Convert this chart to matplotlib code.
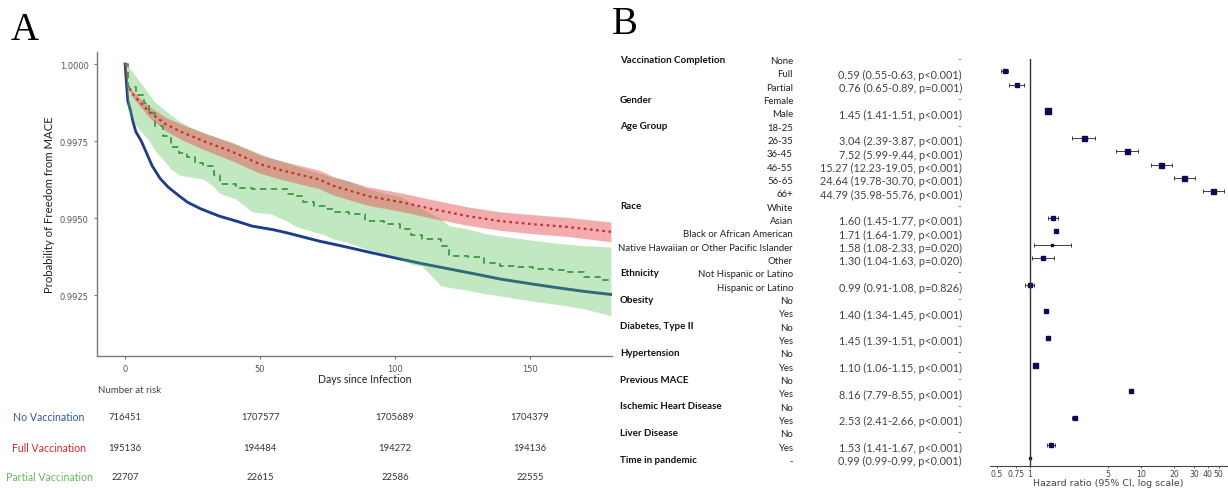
import numpy as np
import matplotlib
matplotlib.use("Agg")
import matplotlib.pyplot as plt
from matplotlib import transforms

# ---------------- Panel A data (Kaplan-Meier) ----------------
days_none = [0, 1, 2, 3, 4, 5, 6, 8, 10, 13, 16, 20, 23, 28, 35, 42, 47, 55, 60, 72, 80, 90,
             102, 110, 120, 130, 139, 150, 160, 170, 180]
surv_none = [1.0, 0.9988, 0.9985, 0.9981, 0.9978, 0.99765, 0.9975, 0.9971, 0.9967, 0.99628,
             0.996, 0.99572, 0.99552, 0.9953, 0.99506, 0.99488, 0.99474, 0.99462, 0.99452,
             0.99425, 0.9941, 0.9939, 0.99367, 0.99352, 0.99335, 0.99318, 0.99302, 0.99287,
             0.99274, 0.99262, 0.99252]
none_ci_half = 0.00004

days_full = [0, 1, 3, 9, 15, 21, 29, 40, 50, 58, 65, 72, 77, 90, 102, 114, 127, 139, 151, 164, 180]
surv_full = [1.0, 0.9993, 0.9990, 0.99844, 0.99805, 0.99779, 0.9975, 0.99714, 0.99675, 0.99655,
             0.9964, 0.99625, 0.99605, 0.99571, 0.99552, 0.99529, 0.99506, 0.9949, 0.9948,
             0.99471, 0.99455]
full_lo = [1.0, 0.99925, 0.9989, 0.99826, 0.99783, 0.99754, 0.99723, 0.99684, 0.99645, 0.99625,
           0.9961, 0.99595, 0.99575, 0.99541, 0.99522, 0.99499, 0.99476, 0.9946, 0.99449,
           0.9944, 0.99423]
full_hi = [1.0, 0.99935, 0.9991, 0.99862, 0.99827, 0.99804, 0.99777, 0.99744, 0.99705, 0.99685,
           0.9967, 0.99655, 0.99635, 0.99601, 0.99582, 0.99559, 0.99536, 0.9952, 0.99511,
           0.99502, 0.99487]

days_part = [0, 1, 4, 7, 9, 11, 14, 17, 20, 23, 26, 29, 33, 35, 41, 47, 54, 60, 63, 66, 70, 74,
             77, 83, 89, 96, 102, 106, 110, 117, 120, 127, 133, 139, 145, 151, 158, 164, 170,
             176, 180]
surv_part = [1.0, 0.99925, 0.9990, 0.99875, 0.9984, 0.998, 0.99765, 0.9973, 0.9971, 0.99698,
             0.9968, 0.99669, 0.9964, 0.9961, 0.99597, 0.99595, 0.99594, 0.99578, 0.9957,
             0.99552, 0.9954, 0.99528, 0.9952, 0.99513, 0.9949, 0.9948, 0.99464, 0.99445,
             0.99432, 0.9941, 0.99377, 0.99373, 0.99355, 0.99344, 0.9934, 0.99334, 0.9933,
             0.99325, 0.99308, 0.993, 0.99292]
part_lo = [1.0, 0.9985, 0.998, 0.9977, 0.9975, 0.9972, 0.9969, 0.99659, 0.9964, 0.99635,
           0.9963, 0.99627, 0.996, 0.9958, 0.99562, 0.9952, 0.99513, 0.9949, 0.99474, 0.99465,
           0.99455, 0.99445, 0.99432, 0.9942, 0.9940, 0.99385, 0.99367, 0.9935, 0.99344,
           0.9928, 0.99275, 0.99265, 0.99255, 0.99247, 0.99238, 0.9923, 0.99222, 0.99214,
           0.99205, 0.99192, 0.99182]
part_hi = [1.0, 0.99995, 0.9996, 0.99925, 0.999, 0.99877, 0.99855, 0.99835, 0.99815, 0.998,
           0.99788, 0.99777, 0.99765, 0.99758, 0.9974, 0.9972, 0.99695, 0.9968, 0.9967, 0.9966,
           0.9965, 0.9964, 0.99632, 0.9962, 0.99598, 0.9958, 0.9957, 0.9955, 0.9953, 0.99497,
           0.99475, 0.99465, 0.9945, 0.99442, 0.99435, 0.99428, 0.9942, 0.99415, 0.9941,
           0.99408, 0.99406]

x_ticks = [0, 50, 100, 150]
y_ticks = [0.9925, 0.9950, 0.9975, 1.0000]
risk_groups = ["No Vaccination", "Full Vaccination", "Partial Vaccination"]
risk_none = [716451, 1707577, 1705689, 1704379]
risk_full = [195136, 194484, 194272, 194136]
risk_part = [22707, 22615, 22586, 22555]

# ---------------- Panel B data (Cox model) ----------------
row_groups = ["Vaccination Completion", "", "", "Gender", "", "Age Group", "", "", "", "", "",
              "Race", "", "", "", "", "Ethnicity", "", "Obesity", "", "Diabetes, Type II", "",
              "Hypertension", "", "Previous MACE", "", "Ischemic Heart Disease", "",
              "Liver Disease", "", "Time in pandemic"]
row_levels = ["None", "Full", "Partial", "Female", "Male", "18-25", "26-35", "36-45", "46-55",
              "56-65", "66+", "White", "Asian", "Black or African American",
              "Native Hawaiian or Other Pacific Islander", "Other", "Not Hispanic or Latino",
              "Hispanic or Latino", "No", "Yes", "No", "Yes", "No", "Yes", "No", "Yes", "No",
              "Yes", "No", "Yes", "-"]
nan = np.nan
hr = [nan, 0.59, 0.76, nan, 1.45, nan, 3.04, 7.52, 15.27, 24.64, 44.79, nan, 1.60, 1.71, 1.58,
      1.30, nan, 0.99, nan, 1.40, nan, 1.45, nan, 1.10, nan, 8.16, nan, 2.53, nan, 1.53, 0.99]
hr_lo = [nan, 0.55, 0.65, nan, 1.41, nan, 2.39, 5.99, 12.23, 19.78, 35.98, nan, 1.45, 1.64, 1.08,
         1.04, nan, 0.91, nan, 1.34, nan, 1.39, nan, 1.06, nan, 7.79, nan, 2.41, nan, 1.41, 0.99]
hr_hi = [nan, 0.63, 0.89, nan, 1.51, nan, 3.87, 9.44, 19.05, 30.70, 55.76, nan, 1.77, 1.79, 2.33,
         1.63, nan, 1.08, nan, 1.45, nan, 1.51, nan, 1.15, nan, 8.55, nan, 2.66, nan, 1.67, 0.99]
p_text = [None, "p<0.001", "p=0.001", None, "p<0.001", None, "p<0.001", "p<0.001", "p<0.001",
          "p<0.001", "p<0.001", None, "p<0.001", "p<0.001", "p=0.020", "p=0.020", None,
          "p=0.826", None, "p<0.001", None, "p<0.001", None, "p<0.001", None, "p<0.001", None,
          "p<0.001", None, "p<0.001", "p<0.001"]
hr_ticks = [0.5, 0.75, 1, 5, 10, 20, 30, 40, 50]
hr_tick_labels = ["0.5", "0.75", "1", "5", "10", "20", "30", "40", "50"]

# style: marker box size (points) per row
box_pt = [0, 3.2, 2.2, 0, 4.6, 0, 3.6, 3.6, 3.6, 3.6, 3.6, 0, 2.4, 3.2, 1.6, 2.2, 0, 2.2, 0, 3.2,
          0, 3.2, 0, 3.6, 0, 2.4, 0, 2.8, 0, 2.2, 1.5]

# ---------------- Figure ----------------
W, H = 1228, 489
fig = plt.figure(figsize=(W / 100, H / 100), dpi=100)
fx = lambda x: x / W
fy = lambda y: 1 - y / H

SANS = ["Lato", "DejaVu Sans"]

ax = fig.add_axes([fx(97), fy(357), fx(612 - 97), (357 - 53) / H])
ax.set_xlim(-10.4, 180.4)
ax.set_ylim(0.99052, 1.00039)

blue, red, green = "#1f3c8c", "#d42a2a", "#3f9a3f"
ax.fill_between(days_none, np.array(surv_none) - none_ci_half, np.array(surv_none) + none_ci_half,
                color="#6f8fd8", alpha=0.6, lw=0, zorder=1)
ax.plot(days_none, surv_none, color=blue, lw=2.0, zorder=2)
ax.fill_between(days_part, part_lo, part_hi, color="#52bf52", alpha=0.35, lw=0, zorder=3)
ax.fill_between(days_full, full_lo, full_hi, color="#e5484b", alpha=0.45, lw=0, zorder=4)
ax.plot(days_full, surv_full, color=red, lw=1.6, ls=(0, (1.2, 1.6)), zorder=5)
ax.plot(days_part, surv_part, color=green, lw=1.3, ls=(0, (3.5, 2.5)), drawstyle="steps-post", zorder=6)

for s in ["top", "right"]:
    ax.spines[s].set_visible(False)
for s in ["left", "bottom"]:
    ax.spines[s].set_color("#7a7a7a")
    ax.spines[s].set_linewidth(1.0)
ax.set_xticks(x_ticks)
ax.set_yticks(y_ticks)
ax.set_yticklabels([f"{v:.4f}" for v in y_ticks])
ax.tick_params(colors="#7a7a7a", labelcolor="#555555", labelsize=6.0, length=2.5, width=0.8)
ax.set_ylabel("Probability of Freedom from MACE", fontsize=8.2, family=SANS, color="#222222")
ax.yaxis.set_label_coords(-0.082, 0.5)
fig.text(fx(365), fy(380), "Days since Infection", fontsize=7.6, family=SANS, color="#222222",
         ha="center", va="center")

# risk table
tr = transforms.blended_transform_factory(ax.transData, fig.transFigure)
fig.text(fx(98), fy(391), "Number at risk", fontsize=7, family=SANS, color="#444444",
         ha="left", va="center")
row_y = [418, 449, 478]
row_cols = ["#2c5a9e", "#d7262b", "#69b85a"]
for grp, yy, col, vals in zip(risk_groups, row_y, row_cols, [risk_none, risk_full, risk_part]):
    fig.text(fx(49), fy(yy), grp, fontsize=7.6, family=SANS, color=col, ha="center", va="center")
    for xv, n in zip(x_ticks, vals):
        ax.text(xv, fy(yy), str(n), transform=tr, fontsize=6.8, family=SANS, color="#333333",
                ha="center", va="center", clip_on=False)

fig.text(fx(11), fy(31), "A", fontsize=28, family="Liberation Serif", ha="left", va="center")
fig.text(fx(612), fy(25), "B", fontsize=28, family="Liberation Serif", ha="left", va="center")

# ---------------- Panel B ----------------
fa = fig.add_axes([fx(990), fy(467), fx(1227 - 990), (467 - 60) / H])
fa.set_xscale("log")
fa.set_xlim(0.436, 59.5)
fa.set_ylim(30.6, 0.075)
fa.axvline(1, color="#333333", lw=1.0, zorder=4)
for i in range(len(hr)):
    if np.isnan(hr[i]):
        continue
    fa.errorbar([hr[i]], [i], xerr=[[hr[i] - hr_lo[i]], [hr_hi[i] - hr[i]]], fmt="none",
                ecolor="#222222", elinewidth=0.6, capsize=1.3, capthick=0.6, zorder=2)
    fa.plot([hr[i]], [i], marker="s", ms=box_pt[i], color="#0a0a55", ls="none", zorder=3)
for s in ["top", "right", "left"]:
    fa.spines[s].set_visible(False)
fa.spines["bottom"].set_color("#444444")
fa.spines["bottom"].set_linewidth(0.8)
fa.set_yticks([])
fa.set_xticks(hr_ticks)
fa.set_xticklabels(hr_tick_labels)
fa.xaxis.set_minor_locator(matplotlib.ticker.NullLocator())
fa.tick_params(axis="x", labelsize=5.6, labelcolor="#444444", color="#444444", length=1.5,
               width=0.6, pad=1.0)
fa.set_xlabel("Hazard ratio (95% CI, log scale)", fontsize=6.8, color="#444444", labelpad=0)

tb = transforms.blended_transform_factory(fig.transFigure, fa.transData)
for i in range(len(row_levels)):
    yy = i + 0.2
    if row_groups[i]:
        fa.text(fx(620), yy - 0.1, row_groups[i], transform=tb, fontsize=7.0, family=SANS,
                weight="bold", color="#111111", ha="left", va="center", clip_on=False)
    fa.text(fx(793), yy, row_levels[i], transform=tb, fontsize=6.9, family=SANS,
            color="#222222", ha="right", va="center", clip_on=False)
    if np.isnan(hr[i]):
        fa.text(fx(961), yy - 0.15, "-", transform=tb, fontsize=6.9, family=SANS,
                color="#666666", ha="right", va="center", clip_on=False)
    else:
        txt = f"{hr[i]:.2f} ({hr_lo[i]:.2f}-{hr_hi[i]:.2f}, {p_text[i]})"
        fa.text(fx(962), yy, txt, transform=tb, fontsize=7.8, family=SANS,
                color="#444444", ha="right", va="center", clip_on=False)

fig.savefig("out.png", dpi=100)
